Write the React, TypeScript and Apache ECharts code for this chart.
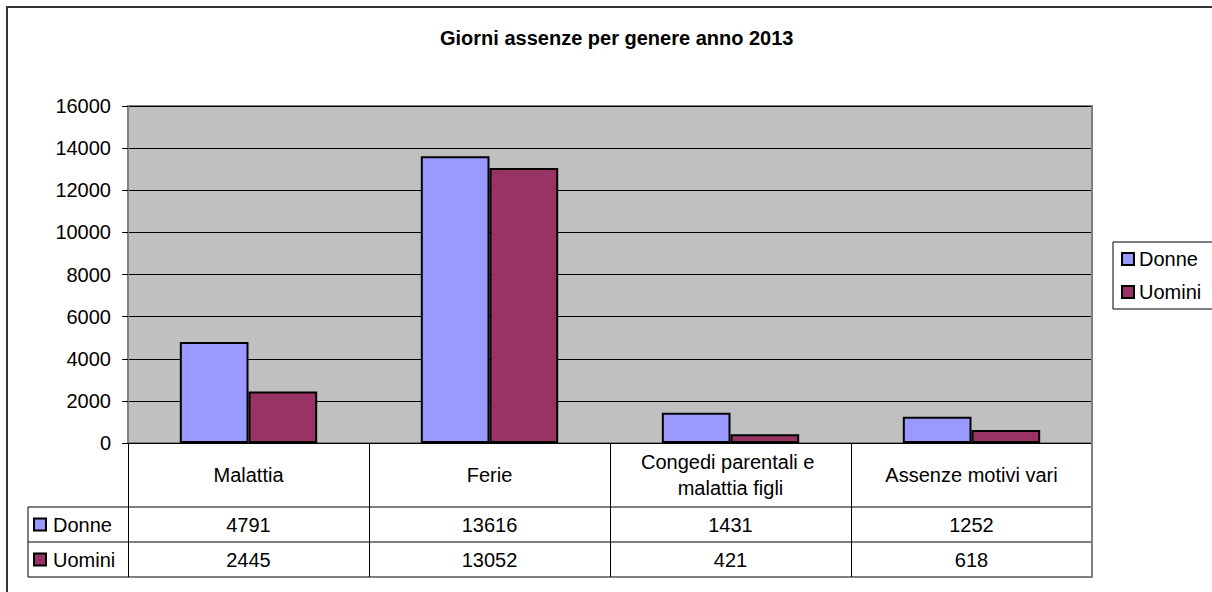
import React, { useEffect, useRef } from "react";
import * as echarts from "echarts";

const title = "Giorni assenze per genere anno 2013";
const categories = ["Malattia", "Ferie", "Congedi parentali e malattia figli", "Assenze motivi vari"];
const seriesNames = ["Donne", "Uomini"];
const donne = [4791, 13616, 1431, 1252];
const uomini = [2445, 13052, 421, 618];
const seriesColors = ["#9999FF", "#993366"];
const yMin = 0;
const yMax = 16000;
const yInterval = 2000;

const FONT = "'Liberation Sans', Arial, sans-serif";
const FS = 20;

export default function App() {
  const ref = useRef<HTMLDivElement>(null);
  useEffect(() => {
    if (!ref.current) return;
    const chart = echarts.init(ref.current, undefined, { renderer: "svg" });
    const gridLeft = 128;
    const gridTop = 106;
    const gridW = 964;
    const gridH = 337;
    const axisY = gridTop + gridH;
    const catRowH = 64;
    const rowH = 35;
    const tableLeft = 28;
    const tableTop = axisY + catRowH;
    const tableBottom = tableTop + rowH * seriesNames.length;
    const gridRight = gridLeft + gridW;

    const values = [donne, uomini];
    chart.setOption({
      animation: false,
      backgroundColor: "#ffffff",
      title: {
        text: title,
        left: 440,
        top: 28,
        padding: 0,
        textStyle: { fontFamily: FONT, fontSize: 20, fontWeight: "bold", color: "#000" },
      },
      legend: {
        orient: "vertical",
        left: 1113,
        top: 242,
        padding: [7, 50, 7, 8],
        itemGap: 13,
        itemWidth: 12,
        itemHeight: 12,
        icon: "rect",
        backgroundColor: "#fff",
        borderColor: "#000",
        borderWidth: 1,
        itemStyle: { borderColor: "#000", borderWidth: 2 },
        textStyle: { fontFamily: FONT, fontSize: FS, color: "#000" },
        data: seriesNames,
      },
      grid: {
        left: gridLeft,
        top: gridTop,
        width: gridW,
        height: gridH,
        show: true,
        backgroundColor: "#C0C0C0",
        borderColor: "#808080",
        borderWidth: 2,
        containLabel: false,
      },
      xAxis: {
        type: "category",
        data: categories,
        axisLine: { show: true, lineStyle: { color: "#000", width: 1 } },
        axisTick: { show: true, alignWithLabel: false, length: catRowH + rowH * seriesNames.length, lineStyle: { color: "#000", width: 1 } },
        axisLabel: {
          interval: 0,
          margin: 32,
          verticalAlign: "middle",
          width: 215,
          overflow: "break",
          lineHeight: 26,
          fontFamily: FONT,
          fontSize: FS,
          color: "#000",
        },
        splitLine: { show: false },
      },
      yAxis: {
        type: "value",
        min: yMin,
        max: yMax,
        interval: yInterval,
        axisLine: { show: true, lineStyle: { color: "#808080", width: 2 } },
        axisTick: { show: true, length: 6, lineStyle: { color: "#000" } },
        axisLabel: { margin: 17, fontFamily: FONT, fontSize: FS, color: "#000", formatter: (v: number) => String(v) },
        splitLine: { show: true, lineStyle: { color: "#000", width: 1 } },
      },
      series: seriesNames.map((name, k) => ({
        name,
        type: "bar",
        data: values[k],
        barGap: "0%",
        barCategoryGap: "43%",
        itemStyle: { color: seriesColors[k], borderColor: "#000", borderWidth: 2 },
      })),
    });

    const g: any[] = [];
    g.push({
      type: "rect",
      silent: true,
      z: 100,
      shape: { x: 7, y: 7, width: 1400, height: 800 },
      style: { fill: "none", stroke: "#333", lineWidth: 2 },
    });
    const line = (x1: number, y1: number, x2: number, y2: number, stroke = "#000", lw = 1) =>
      g.push({ type: "line", silent: true, z: 50, shape: { x1, y1, x2, y2 }, style: { stroke, lineWidth: lw } });
    line(tableLeft, tableTop, gridRight, tableTop);
    for (let r = 1; r <= seriesNames.length; r++) {
      line(tableLeft, tableTop + rowH * r, gridRight, tableTop + rowH * r);
    }
    line(tableLeft, tableTop, tableLeft, tableBottom);
    line(gridRight, gridTop, gridRight, tableBottom + 1, "#808080", 2);

    seriesNames.forEach((name, r) => {
      const cy = tableTop + rowH * r + rowH / 2;
      g.push({
        type: "rect",
        silent: true,
        z: 60,
        shape: { x: tableLeft + 6, y: cy - 6, width: 12, height: 12 },
        style: { fill: seriesColors[r], stroke: "#000", lineWidth: 2 },
      });
      g.push({
        type: "text",
        silent: true,
        z: 60,
        x: tableLeft + 25,
        y: cy,
        style: { text: name, font: `${FS}px ${FONT}`, fill: "#000", align: "left", verticalAlign: "middle" },
      });
      values[r].forEach((v, i) => {
        const px = chart.convertToPixel({ xAxisIndex: 0 }, categories[i]) as number;
        g.push({
          type: "text",
          silent: true,
          z: 60,
          x: px,
          y: cy,
          style: { text: String(v), font: `${FS}px ${FONT}`, fill: "#000", align: "center", verticalAlign: "middle" },
        });
      });
    });
    chart.setOption({ graphic: { elements: g } });

    return () => chart.dispose();
  }, []);
  return <div ref={ref} style={{ position: "absolute", left: 0, top: 0, width: 1212, height: 592 }} />;
}
